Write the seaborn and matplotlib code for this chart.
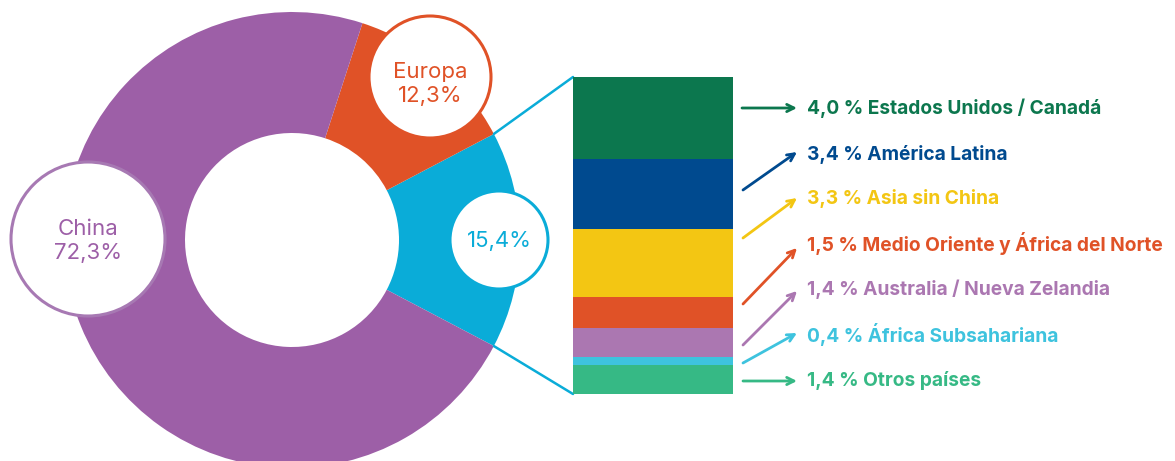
import numpy as np
import matplotlib
matplotlib.use("Agg")
import matplotlib.pyplot as plt
from matplotlib.patches import Circle
import seaborn as sns

# ---- data ----
main_labels = ["Otros", "Europa", "China"]
main_values = [15.4, 12.3, 72.3]
main_colors = ["#0AACD8", "#E05227", "#9D5FA7"]

sub_labels = ["Estados Unidos / Canadá", "América Latina", "Asia sin China",
              "Medio Oriente y África del Norte", "Australia / Nueva Zelandia",
              "África Subsahariana", "Otros países"]
sub_values = [4.0, 3.4, 3.3, 1.5, 1.4, 0.4, 1.4]
sub_colors = ["#0C774E", "#004A8F", "#F3C613", "#E05227", "#AB77B1", "#3EC3DE", "#36B985"]

sns.set_theme(style="white")
plt.rcParams['font.family'] = ['Inter', 'DejaVu Sans']

W, H = 1175, 461
fig = plt.figure(figsize=(W / 100, H / 100), dpi=100)
ax = fig.add_axes([0, 0, 1, 1])

def Y(yp):
    return H - yp

cx, cy, R, r_in = 292, Y(240), 228, 107
start = -main_values[0] / 100 * 360 / 2
ax.pie(main_values, colors=main_colors, center=(cx, cy), radius=R,
       startangle=start, counterclock=True,
       wedgeprops=dict(width=R - r_in, linewidth=0))

ax.set_xlim(0, W)
ax.set_ylim(0, H)
ax.set_aspect('equal')
ax.axis('off')

# label circles: (x, y, radius, edge colour, text colour, lines, fontsize, text y)
circles = [
    (88, 239, 77, "#A779B3", main_colors[2], ["China", "72,3%"], 16, 241),
    (430, 77, 61, main_colors[1], main_colors[1], ["Europa", "12,3%"], 16, 84),
    (499, 240, 49, main_colors[0], main_colors[0], ["15,4%"], 16, 241),
]
for x, y, rad, ecol, col, lines, fs, ty in circles:
    ax.add_patch(Circle((x, Y(y)), rad, facecolor="white", edgecolor=ecol, lw=2.2, zorder=5))
    ax.text(x, Y(ty), "\n".join(lines), ha="center", va="center", color=col,
            fontsize=fs, linespacing=1.3, zorder=6, fontweight="normal")

# stacked bar (inset axis with its own scale)
bx0, bx1, by0, by1 = 573, 733, 77, 394
bax = fig.add_axes([bx0 / W, (H - by1) / H, (bx1 - bx0) / W, (by1 - by0) / H])
total = sum(sub_values)
bottoms = np.concatenate([[0], np.cumsum(sub_values)[:-1]])
for v, b, c in zip(sub_values, bottoms, sub_colors):
    bax.bar(0, v, bottom=b, width=1.0, color=c, linewidth=0)
bax.set_xlim(-0.5, 0.5)
bax.set_ylim(total, 0)
bax.axis('off')

# connector lines
th = np.deg2rad(-start)
ax.plot([cx + R * np.cos(th), bx0], [cy + R * np.sin(th), Y(by0)], color=main_colors[0], lw=1.8, zorder=4)
ax.plot([cx + R * np.cos(th), bx0], [cy - R * np.sin(th), Y(by1)], color=main_colors[0], lw=1.8, zorder=4)

# arrows + labels
arrows = [((742, 108), (797, 108)), ((743, 190), (797, 152)), ((743, 238), (797, 198)),
          ((743, 304), (797, 248)), ((743, 345), (797, 291)), ((743, 363), (797, 333)),
          ((743, 381), (797, 381))]
text_y = [108, 154, 199, 244, 289, 334, 380]
for (t, h), ty, v, lab, c in zip(arrows, text_y, sub_values, sub_labels, sub_colors):
    ax.annotate("", xy=(h[0], Y(h[1])), xytext=(t[0], Y(t[1])),
                arrowprops=dict(arrowstyle="->", color=c, lw=2, shrinkA=0, shrinkB=0,
                                mutation_scale=13))
    ax.text(807, Y(ty), f"{v:.1f}".replace(".", ",") + " % " + lab, ha="left", va="center",
            color=c, fontsize=13.8, fontweight="bold")

fig.savefig("out.png", dpi=100)
